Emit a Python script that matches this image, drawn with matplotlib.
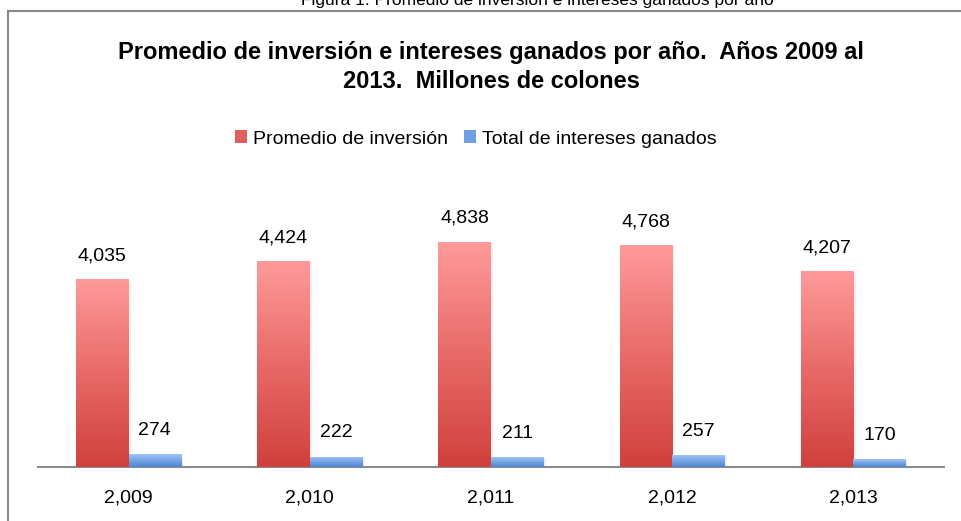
import numpy as np
import matplotlib
matplotlib.use("Agg")
import matplotlib.pyplot as plt
from matplotlib.patches import Patch
from matplotlib.lines import Line2D
from matplotlib.colors import LinearSegmentedColormap

plt.rcParams['font.family'] = ['Liberation Sans', 'DejaVu Sans']

# ---- data ----
years = ["2,009", "2,010", "2,011", "2,012", "2,013"]
promedio_inversion = [4035, 4424, 4838, 4768, 4207]
intereses_ganados = [274, 222, 211, 257, 170]
series_names = ["Promedio de inversión", "Total de intereses ganados"]
title_text = "Promedio de inversión e intereses ganados por año.  Años 2009 al\n2013.  Millones de colones"
caption_text = "Figura 1. Promedio de inversión e intereses ganados por año"

W, H = 961, 521
fig = plt.figure(figsize=(W / 100, H / 100), dpi=100)
fig.patch.set_facecolor('white')

ax = fig.add_axes([38 / W, 1 - 467 / H, (944 - 38) / W, (467 - 188) / H])

x = np.arange(len(years))
bw = 0.29
red_cmap = LinearSegmentedColormap.from_list('r', ['#d0403d', '#e86a68', '#ff9a9a'])
blue_cmap = LinearSegmentedColormap.from_list('b', ['#4f84d0', '#9cc4f7'])

bars_r = ax.bar(x - bw / 2, promedio_inversion, bw, color='none', edgecolor='none', zorder=3)
bars_b = ax.bar(x + bw / 2, intereses_ganados, bw, color='none', edgecolor='none', zorder=3)

grad = np.linspace(0, 1, 256).reshape(-1, 1)
for bars, cmap in ((bars_r, red_cmap), (bars_b, blue_cmap)):
    for p in bars:
        x0, y0 = p.get_x(), p.get_y()
        w, h = p.get_width(), p.get_height()
        # soft shadow
        ax.bar(x0 + w / 2 + 0.012, h, w, bottom=-25, color='#000000', alpha=0.06,
               edgecolor='none', zorder=2)
        im = ax.imshow(grad, cmap=cmap, origin='lower', aspect='auto',
                       extent=(x0, x0 + w, y0, y0 + h), zorder=3)
        im.set_clip_path(p)

ax.set_xlim(-0.5, len(years) - 0.5)
ax.set_ylim(0, 6000)

for bars, vals in ((bars_r, promedio_inversion), (bars_b, intereses_ganados)):
    for p, v in zip(bars, vals):
        ax.annotate(f"{v:,}", (p.get_x() + p.get_width() / 2, p.get_height()),
                    xytext=(0, 11), textcoords='offset points', ha='center', va='bottom',
                    fontsize=14, color='#000000')

ax.set_xticks(x)
ax.set_xticklabels(years, fontsize=14)
ax.tick_params(axis='x', length=0, pad=16)
ax.set_yticks([])
for s in ('top', 'right', 'left'):
    ax.spines[s].set_visible(False)
ax.spines['bottom'].set_color('#8c8c8c')
ax.spines['bottom'].set_linewidth(1.5)
ax.set_facecolor('none')

# legend
handles = [Patch(facecolor='#e0605e', edgecolor='none'),
           Patch(facecolor='#6f9fe0', edgecolor='none')]
fig.legend(handles, series_names, loc='center', bbox_to_anchor=(476 / W, 1 - 139 / H),
           ncol=2, frameon=False, fontsize=14, handlelength=0.6, handleheight=0.6,
           handletextpad=0.35, columnspacing=0.8)

# title
fig.text(491 / W, 1 - 67 / H, title_text, ha='center', va='center', fontsize=17,
         fontweight='bold', linespacing=1.3)

# caption (partly above the top edge, as in the source)
fig.text(537 / W, 1 - 5 / H, caption_text, ha='center', va='baseline', fontsize=12.5)

# frame
fig.add_artist(Line2D([8 / W, 8 / W], [0, 1 - 11 / H], color='#8a8a8a', lw=1.5))
fig.add_artist(Line2D([8 / W, 1], [1 - 11 / H, 1 - 11 / H], color='#8a8a8a', lw=1.5))

fig.savefig('out.png', dpi=100, facecolor='white')
